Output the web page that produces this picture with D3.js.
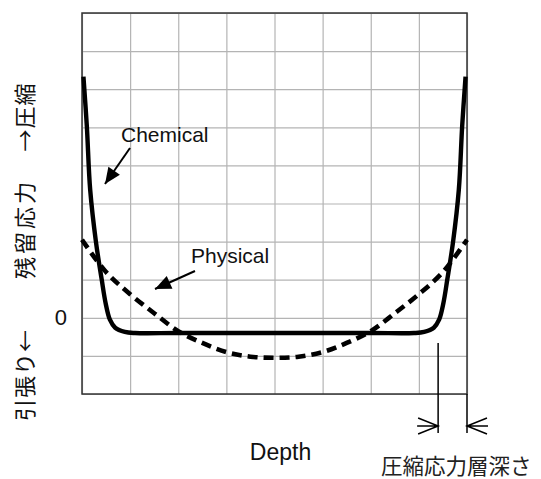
<!DOCTYPE html>
<html><head><meta charset="utf-8">
<script src="https://cdn.jsdelivr.net/npm/d3@7"></script>
<style>
body{margin:0;background:#fff;}
svg{display:block;}
</style></head>
<body>
<svg id="chart" width="541" height="479"></svg>
<script>
// ---- data (x in depth grid units, y in stress grid units) ----
const xTicks = [0,1,2,3,4,5,6,7,8];
const yTicks = [-2,-1,0,1,2,3,4,5,6,7,8];
const zeroTick = [0];
const chemicalX = [0.03,0.10,0.17,0.29,0.41,0.49,0.58,0.69,0.89,1.10,2,4,6,6.90,7.11,7.31,7.42,7.51,7.59,7.71,7.83,7.90,7.97];
const chemicalY = [6.33,5.04,3.36,1.99,1.00,0.39,-0.05,-0.26,-0.37,-0.40,-0.40,-0.40,-0.40,-0.40,-0.37,-0.26,-0.05,0.39,1.00,1.99,3.36,5.04,6.33];
const physicalX = [0,0.5,1,1.5,2,2.5,3,3.5,4,4.5,5,5.5,6,6.5,7,7.5,8];
const physicalY = [2.05,1.2,0.62,0.12,-0.35,-0.66,-0.9,-1.02,-1.05,-1.02,-0.9,-0.66,-0.35,0.12,0.62,1.2,2.05];
const seriesLabels = ["Chemical","Physical"];
const xLabel = "Depth";
const yLabelParts = ["→圧縮","残留応力","引張り←"];
const depthLabel = "圧縮応力層深さ";

const svg = d3.select("#chart");
const L = 82, R = 467, T = 13, B = 394;
const x = d3.scaleLinear().domain([0,8]).range([L,R]);
const y = d3.scaleLinear().domain([-2,8]).range([B,T]);

// grid
const gx = svg.append("g").attr("transform",`translate(0,${B})`)
  .call(d3.axisBottom(x).tickValues(xTicks).tickSize(-(B-T)).tickFormat(""));
gx.select(".domain").remove();
gx.selectAll("line").attr("stroke","#b4b4b4").attr("stroke-width",1.2);
const gy = svg.append("g").attr("transform",`translate(${L},0)`)
  .call(d3.axisLeft(y).tickValues(yTicks).tickSize(-(R-L)).tickFormat(""));
gy.select(".domain").remove();
gy.selectAll("line").attr("stroke","#b4b4b4").attr("stroke-width",1.2);

// zero label
const g0 = svg.append("g").attr("transform",`translate(${L},0)`)
  .call(d3.axisLeft(y).tickValues(zeroTick).tickSize(0).tickPadding(15).tickFormat(d3.format("d")));
g0.select(".domain").remove();
g0.selectAll("text").attr("font-family","'Liberation Sans',Arial,sans-serif").attr("font-size",22).attr("fill","#111");

// border
svg.append("rect").attr("x",L).attr("y",T).attr("width",R-L).attr("height",B-T)
  .attr("fill","none").attr("stroke","#333").attr("stroke-width",1.5);

// curves
const chem = chemicalX.map((v,i)=>[v,chemicalY[i]]);
const phys = physicalX.map((v,i)=>[v,physicalY[i]]);
const line = d3.line().x(d=>x(d[0])).y(d=>y(d[1])).curve(d3.curveCatmullRom.alpha(0.5));
svg.append("path").attr("d",line(phys)).attr("fill","none").attr("stroke","#000")
  .attr("stroke-width",4.6).attr("stroke-dasharray","10,6");
svg.append("path").attr("d",line(chem)).attr("fill","none").attr("stroke","#000")
  .attr("stroke-width",4.4).attr("stroke-linejoin","round");

// labels & pointer arrows
const sans = "'Liberation Sans',Arial,Helvetica,sans-serif";
function pointer(x1,y1,x2,y2){
  svg.append("line").attr("x1",x1).attr("y1",y1).attr("x2",x2).attr("y2",y2)
    .attr("stroke","#000").attr("stroke-width",2);
  const a = Math.atan2(y2-y1,x2-x1), len=16, w=7;
  const bx = x2-len*Math.cos(a), by = y2-len*Math.sin(a);
  const px = -Math.sin(a)*w, py = Math.cos(a)*w;
  svg.append("path").attr("d",`M${x2},${y2}L${bx+px},${by+py}L${bx-px},${by-py}Z`).attr("fill","#000");
}
svg.append("text").attr("x",121).attr("y",142).attr("font-family",sans).attr("font-size",21)
  .attr("fill","#111").text(seriesLabels[0]);
pointer(130,148,105,184);
svg.append("text").attr("x",191).attr("y",263).attr("font-family",sans).attr("font-size",21)
  .attr("fill","#111").text(seriesLabels[1]);
pointer(195,271,155,289);

svg.append("text").attr("x",(L+R)/2+6).attr("y",460).attr("text-anchor","middle")
  .attr("font-family",sans).attr("font-size",23).attr("fill","#111").text(xLabel);

// y label (vertical)
const cjk = "'Noto Sans CJK JP','Noto Sans CJK SC',sans-serif";
const yCenters = [117,229,375];
const ySpacing = [1,3,1];
yLabelParts.forEach((t,i)=>{
  svg.append("text").attr("transform",`translate(23,${yCenters[i]}) rotate(-90)`)
    .attr("text-anchor","middle").attr("dominant-baseline","central")
    .attr("letter-spacing",ySpacing[i])
    .attr("font-family",cjk).attr("font-size",22).attr("fill","#111").text(t);
});

// compressive depth marker
const dX = 7.4;
svg.append("line").attr("x1",x(dX)).attr("x2",x(dX)).attr("y1",343).attr("y2",433).attr("stroke","#000").attr("stroke-width",1.5);
svg.append("line").attr("x1",x(8)).attr("x2",x(8)).attr("y1",B).attr("y2",433).attr("stroke","#000").attr("stroke-width",1.5);
svg.append("path").attr("d",`M${x(dX)-21},426H${x(dX)}M${x(dX)-20},418L${x(dX)},426L${x(dX)-20},434`)
  .attr("fill","none").attr("stroke","#000").attr("stroke-width",1.5);
svg.append("path").attr("d",`M${x(8)+21},426H${x(8)}M${x(8)+20},418L${x(8)},426L${x(8)+20},434`)
  .attr("fill","none").attr("stroke","#000").attr("stroke-width",1.5);
svg.append("text").attr("x",381).attr("y",474).attr("font-family",cjk).attr("font-size",21.5)
  .attr("fill","#222").text(depthLabel);
</script>
</body></html>
